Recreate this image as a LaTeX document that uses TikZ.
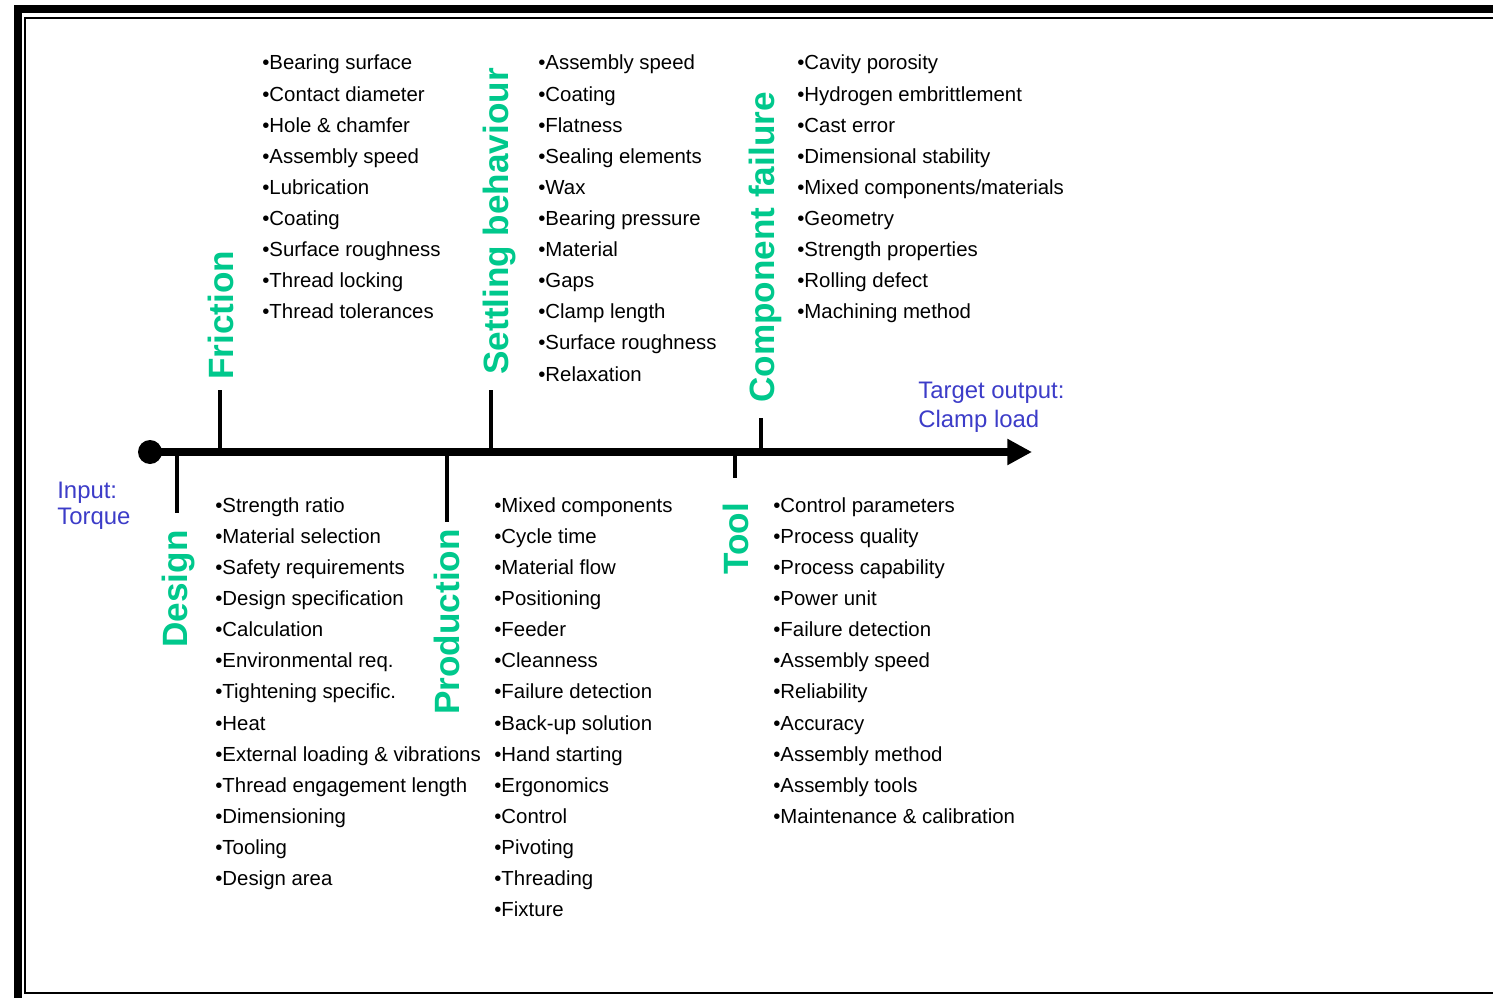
\documentclass[tikz,border=0pt]{standalone}
\usepackage{fontspec}
\setmainfont{Liberation Sans}
\usetikzlibrary{arrows.meta}
\definecolor{catgreen}{RGB}{0,200,140}
\definecolor{ioblue}{RGB}{60,60,200}

\begin{document}
\begin{tikzpicture}[x=0.02cm, y=-0.02cm,
    cat/.style={rotate=90, anchor=base west, inner sep=0, text=catgreen, font=\fontsize{20}{24}\selectfont\bfseries},
    item/.style={anchor=base west, inner sep=0, font=\fontsize{11.6}{14}\selectfont},
    io/.style={anchor=base west, inner sep=0, text=ioblue, font=\fontsize{13.6}{16}\selectfont},
    branch/.style={line width=2pt},
    dot/.style={circle, fill, inner sep=0, minimum size=0.48cm}]

                \useasboundingbox (0,0) rectangle (1493,997);
                \clip (0,0) rectangle (1493,997);

                % frame
                \draw[line width=4.5pt] (18,9) rectangle (1520,1006);
                \draw[line width=1.1pt] (25,18) rectangle (1510,993);

                % spine
                \node[dot] (start) at (150,452) {};
                \coordinate (output) at (1032,452);
                \draw[line width=4.5pt, -{Triangle[length=14pt,width=14pt]}] (start.center) -- (output);

                % branches
                \coordinate (fr-root) at (220,452);
                \coordinate (fr-end) at (220,390);
                \coordinate (se-root) at (491,452);
                \coordinate (se-end) at (491,390);
                \coordinate (co-root) at (761,452);
                \coordinate (co-end) at (761,418);
                \coordinate (de-root) at (177,452);
                \coordinate (de-end) at (177,513);
                \coordinate (pr-root) at (447,452);
                \coordinate (pr-end) at (447,522);
                \coordinate (to-root) at (735,452);
                \coordinate (to-end) at (735,478);
                \draw[branch] (fr-root) -- (fr-end);
                \draw[branch] (se-root) -- (se-end);
                \draw[branch] (co-root) -- (co-end);
                \draw[branch] (de-root) -- (de-end);
                \draw[branch] (pr-root) -- (pr-end);
                \draw[branch] (to-root) -- (to-end);

                % categories
                \node[cat] (friction) at (233,380) {Friction};
                \node[cat] (settling) at (508,375) {Settling behaviour};
                \node[cat] (component) at (774,403) {Component failure};
                \node[cat] (design) at (187,648) {Design};
                \node[cat] (production) at (459,715) {Production};
                \node[cat] (tool) at (748,575) {Tool};

                % input and output
                \node[io] (in1) at (57,498) {Input:};
                \node[io] (in2) at (57,524) {Torque};
                \node[io] (out1) at (918,398) {Target output:};
                \node[io] (out2) at (918,427) {Clamp load};

                % causes
                \foreach \t [count=\i from 0] in {Bearing surface, Contact diameter, Hole \& chamfer, Assembly speed, Lubrication, Coating, Surface roughness, Thread locking, Thread tolerances}
                    \node[item] (fr-\i) at (262, 70+31.1*\i) {\textbullet\t};
                \foreach \t [count=\i from 0] in {Assembly speed, Coating, Flatness, Sealing elements, Wax, Bearing pressure, Material, Gaps, Clamp length, Surface roughness, Relaxation}
                    \node[item] (se-\i) at (538, 70+31.1*\i) {\textbullet\t};
                \foreach \t [count=\i from 0] in {Cavity porosity, Hydrogen embrittlement, Cast error, Dimensional stability, {Mixed components/materials}, Geometry, Strength properties, Rolling defect, Machining method}
                    \node[item] (co-\i) at (797, 70+31.1*\i) {\textbullet\t};
                \foreach \t [count=\i from 0] in {Strength ratio, Material selection, Safety requirements, Design specification, Calculation, Environmental req., Tightening specific., Heat, External loading \& vibrations, Thread engagement length, Dimensioning, Tooling, Design area}
                    \node[item] (de-\i) at (215, 512+31.15*\i) {\textbullet\t};
                \foreach \t [count=\i from 0] in {Mixed components, Cycle time, Material flow, Positioning, Feeder, Cleanness, Failure detection, Back-up solution, Hand starting, Ergonomics, Control, Pivoting, Threading, Fixture}
                    \node[item] (pr-\i) at (494, 512+31.15*\i) {\textbullet\t};
                \foreach \t [count=\i from 0] in {Control parameters, Process quality, Process capability, Power unit, Failure detection, Assembly speed, Reliability, Accuracy, Assembly method, Assembly tools, Maintenance \& calibration}
                    \node[item] (to-\i) at (773, 512+31.15*\i) {\textbullet\t};
            \end{tikzpicture}
\end{document}
